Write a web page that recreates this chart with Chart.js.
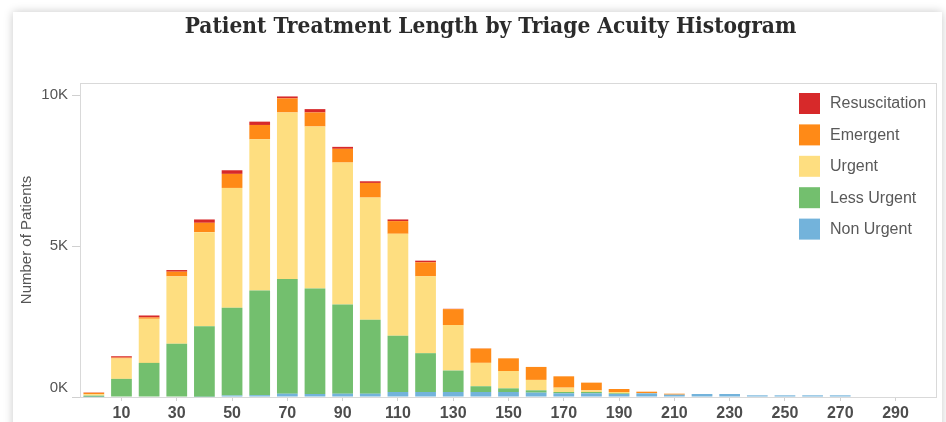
<!DOCTYPE html>
<html>
<head>
<meta charset="utf-8">
<script src="https://cdn.jsdelivr.net/npm/chart.js@4/dist/chart.umd.min.js"></script>
<style>
  body { margin: 0; background: #fff; width: 946px; height: 422px; overflow: hidden; }
  #card { position: absolute; left: 13px; top: 12px; width: 929px; height: 420px; background: #fff;
          box-shadow: 0 0 9px rgba(0, 0, 0, 0.22); }
  canvas { display: block; }
</style>
</head>
<body>
<div id="card"><canvas id="myChart" width="929" height="410"></canvas></div>
<script>
const chartTitle = 'Patient Treatment Length by Triage Acuity Histogram';

// treatment length bins (minutes)
const bins = ["0", "10", "20", "30", "40", "50", "60", "70", "80", "90", "100", "110", "120", "130", "140",
  "150", "160", "170", "180", "190", "200", "210", "220", "230", "240", "250", "260", "270", "280", "290", "300"];

const nonUrgent = [5, 0, 0, 0, 10, 50, 60, 110, 100, 110, 110, 166, 166, 166, 166,
  166, 144, 122, 122, 100, 122, 77, 100, 100, 55, 55, 55, 55, 0, 0, 0];
const lessUrgent = [40, 600, 1130, 1760, 2330, 2910, 3470, 3800, 3490, 2950, 2450, 1860, 1285, 710, 190,
  120, 77, 44, 44, 22, 0, 0, 0, 0, 0, 0, 0, 0, 0, 0, 0];
const urgent = [45, 675, 1460, 2235, 3120, 3965, 5005, 5515, 5370, 4705, 4045, 3380, 2545, 1505, 775,
  575, 345, 144, 55, 44, 10, 0, 0, 0, 0, 0, 0, 0, 0, 0, 0];
const emergent = [50, 30, 45, 155, 310, 465, 475, 465, 465, 455, 485, 420, 465, 530, 475,
  420, 430, 375, 255, 100, 44, 33, 0, 0, 0, 0, 0, 0, 0, 0, 0];
const resuscitation = [10, 45, 65, 55, 110, 120, 110, 65, 110, 65, 55, 55, 55, 10, 5,
  0, 0, 0, 0, 0, 0, 0, 0, 0, 0, 0, 0, 0, 0, 0, 0];

const yTicks = [0, 5000, 10000];

// title, grey frame round the plot and the legend inside it (top right)
const plotFrame = {
  id: 'plotFrame',
  afterDraw(chart) {
    const { ctx, chartArea } = chart;
    ctx.save();
    ctx.fillStyle = '#2b2b2b';
    ctx.font = 'bold 22.5px "DejaVu Serif Condensed", "DejaVu Serif", serif';
    ctx.textAlign = 'center';
    ctx.textBaseline = 'middle';
    ctx.fillText(chartTitle, (chartArea.left + chartArea.right) / 2 - 18, 15);

    ctx.strokeStyle = '#d9d9d9';
    ctx.lineWidth = 1;
    ctx.strokeRect(chartArea.left + 0.5, chartArea.top + 0.5,
      chartArea.right - chartArea.left - 1, chartArea.bottom - chartArea.top);

    const items = chart.data.datasets.slice().reverse();
    const x = chartArea.right - 138;
    let y = chartArea.top + 10;
    ctx.font = '16px "Liberation Sans", Arial, sans-serif';
    ctx.textAlign = 'left';
    items.forEach(ds => {
      ctx.fillStyle = ds.backgroundColor;
      ctx.fillRect(x, y, 21, 21);
      ctx.fillStyle = '#595959';
      ctx.fillText(ds.label, x + 31, y + 11);
      y += 31.4;
    });
    ctx.restore();
  }
};

const config = {
  type: 'bar',
  data: {
    labels: bins,
    datasets: [
      { label: 'Non Urgent', data: nonUrgent, backgroundColor: '#73b3db' },
      { label: 'Less Urgent', data: lessUrgent, backgroundColor: '#73bf6e' },
      { label: 'Urgent', data: urgent, backgroundColor: '#fede80' },
      { label: 'Emergent', data: emergent, backgroundColor: '#ff8a17' },
      { label: 'Resuscitation', data: resuscitation, backgroundColor: '#d7292a' }
    ]
  },
  options: {
    responsive: false,
    animation: false,
    devicePixelRatio: 1,
    layout: { padding: { left: 0, right: 5, top: 71, bottom: 0 } },
    datasets: { bar: { barPercentage: 0.75, categoryPercentage: 1, borderWidth: 0 } },
    scales: {
      x: {
        stacked: true,
        offset: true,
        border: { display: false },
        grid: {
          offset: false,
          drawOnChartArea: false,
          tickLength: 4,
          color: c => (c.index % 2 === 1 ? '#d0d0d0' : 'rgba(0,0,0,0)')
        },
        ticks: {
          autoSkip: false,
          maxRotation: 0,
          padding: 3,
          color: '#4d4d4d',
          font: { family: '"Liberation Sans", Arial, sans-serif', size: 16, weight: 'bold' },
          callback: function (value, index) { return index % 2 === 1 ? this.getLabelForValue(value) : ''; }
        },
        afterFit: scale => { scale.height = 25; }
      },
      y: {
        stacked: true,
        min: 0,
        max: 10400,
        border: { display: false },
        grid: { drawOnChartArea: false, tickLength: 8, color: '#d0d0d0' },
        afterBuildTicks: scale => { scale.ticks = yTicks.map(v => ({ value: v })); },
        ticks: {
          padding: 4,
          color: '#555',
          font: { family: '"Liberation Sans", Arial, sans-serif', size: 15 },
          // the 0K label sits a little above its tick in the original
          callback: value => (value === 0 ? ['0K', ''] : (value / 1000) + 'K')
        },
        title: {
          display: true,
          text: 'Number of Patients',
          color: '#555',
          padding: { top: 5, bottom: 0 },
          font: { family: '"Liberation Sans", Arial, sans-serif', size: 15 }
        },
        afterFit: scale => { scale.width = 67; }
      }
    },
    plugins: {
      legend: { display: false },
      tooltip: { enabled: false },
      title: { display: false }
    }
  },
  plugins: [plotFrame]
};

const ctx = document.getElementById('myChart').getContext('2d');
const myChart = new Chart(ctx, config);
</script>
</body>
</html>
